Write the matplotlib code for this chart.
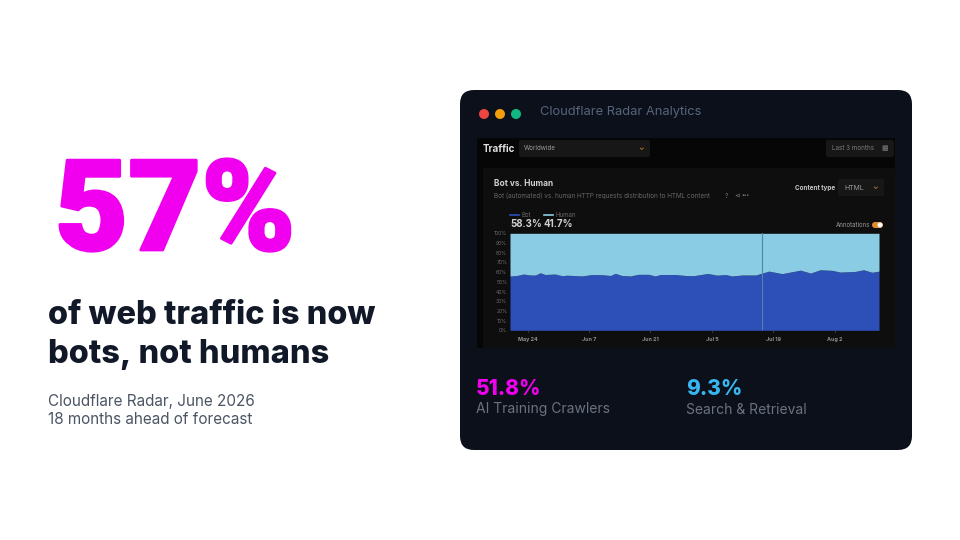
#! /usr/bin/python3

import matplotlib
matplotlib.use('Agg')
import matplotlib.pyplot as plt
import matplotlib.patheffects as pe
from matplotlib.patches import FancyBboxPatch, Circle, Rectangle

# bot share of requests
days = [0, 1.6, 3.1, 4.6, 5.8, 6.9, 8, 10.3, 11.9, 13, 16.4, 18.7, 21, 22.9, 24, 25.5, 27.4,
        29.3, 31.6, 33.1, 34.3, 37.7, 40, 41.9, 45.1, 47.2, 49.1, 50.6, 52.9, 56, 59, 62,
        66.2, 68.5, 70.7, 73.4, 75.3, 78.7, 80.6, 82.5, 84.1]
bot = [55.9, 56.5, 58, 57, 57, 59.3, 57.5, 58, 56.2, 56.8, 56, 57.5, 57.3, 56.5, 58.7, 56.5, 56,
       57.7, 57.7, 56, 57.5, 57.5, 56.5, 56.3, 58.6, 56.8, 57.5, 56, 57, 57, 61, 58.4,
       62, 59, 62.4, 61.8, 60, 60.7, 62.4, 59.8, 61]
yticks = [0, 10, 20, 30, 40, 50, 60, 70, 80, 90, 100]
xtick_days = [4, 18, 32, 46, 60, 74]
xtick_labels = ['May 24', 'Jun 7', 'Jun 21', 'Jul 5', 'Jul 19', 'Aug 2']
annotation_day = 57.5

MAGENTA = '#f000ee'
CARD = '#0b101a'
plt.rcParams['font.family'] = ['Inter', 'DejaVu Sans']

fig = plt.figure(figsize=(9.6, 5.4), dpi=100, facecolor='white')
bg = fig.add_axes([0, 0, 1, 1])
bg.set_xlim(0, 960)
bg.set_ylim(540, 0)
bg.axis('off')


def rbox(x, y, w, h, r, color, ec='none', z=1):
    bg.add_patch(FancyBboxPatch((x + r, y + r), w - 2 * r, h - 2 * r, boxstyle=f'round,pad={r}',
                                fc=color, ec=ec, lw=0.6, zorder=z))


def txt(x, y, s, size, color, weight='normal', ha='left', z=5, family=None):
    return bg.text(x, y, s, fontsize=size, color=color, fontweight=weight, ha=ha, va='center',
                   zorder=z, family=family)


# left column
big = txt(55, 216, '57%', 91, MAGENTA, 'black', family=['Roboto', 'DejaVu Sans'])
big.set_path_effects([pe.withStroke(linewidth=2, foreground=MAGENTA)])
txt(48, 316, 'of web traffic is now', 23.4, '#111827', 'heavy')
txt(48, 355, 'bots, not humans', 23.4, '#111827', 'heavy')
txt(48, 401.5, 'Cloudflare Radar, June 2026', 11, '#4b5563')
txt(48, 419.5, '18 months ahead of forecast', 11, '#4b5563')

# dark card and window dots
rbox(460, 90, 452, 360, 14, CARD)
for cx, col in zip([484, 500, 516], ['#ef4444', '#f59e0b', '#10b981']):
    bg.add_patch(Circle((cx, 114), 5, fc=col, ec='none', zorder=3))
txt(540, 112, 'Cloudflare Radar Analytics', 9.3, '#56647c')

# screenshot panel
bg.add_patch(Rectangle((477, 138), 418, 210, fc='#060607', ec='none', zorder=2))
txt(483, 149, 'Traffic', 7, '#e0e0e0', 'bold')
rbox(519, 140, 131, 17, 2, '#171718', z=3)
txt(524, 148.5, 'Worldwide', 4.5, '#9a9a9a')
txt(641, 148, '⌄', 5, '#c77a2a', 'bold', ha='center')
rbox(826, 140, 68, 17, 2, '#171718', z=3)
txt(832, 148.5, 'Last 3 months', 4.5, '#7c7c7c')
txt(885, 148.5, '▦', 5, '#7c7c7c', ha='center')

rbox(483, 168, 412, 180, 2, '#0e0e0f', z=3)
txt(494, 184, 'Bot vs. Human', 6, '#d0d0d0', 'bold')
txt(494, 196, 'Bot (automated) vs. human HTTP requests distribution to HTML content', 4.6, '#666666')
txt(726, 196, '?', 4.5, '#808080', ha='center')
txt(737, 196, '⋖', 5, '#808080', ha='center')
txt(746, 196, '•••', 3.5, '#808080', ha='center')
txt(795, 188, 'Content type', 4.6, '#c4c4c4', 'bold')
rbox(838, 179, 46, 17, 2, '#171718', z=4)
txt(844, 187.5, 'HTML', 5, '#9a9a9a')
txt(875, 187, '⌄', 5, '#c77a2a', 'bold', ha='center')
txt(836, 225, 'Annotations', 4.4, '#969696')
rbox(872, 222, 11, 6, 3, '#e08a2e', z=4)
bg.add_patch(Circle((880, 225), 2.5, fc='white', ec='none', zorder=5))

# chart legend
bg.plot([510, 519], [215, 215], color='#2c4fb8', lw=1.2, zorder=5)
txt(522, 215, 'Bot', 4.4, '#666666')
bg.plot([544, 553], [215, 215], color='#8accE4', lw=1.2, zorder=5)
txt(556, 215, 'Human', 4.4, '#666666')
txt(510, 224, '58.3%', 7, '#d0d0d0', 'bold')
txt(544, 224, '41.7%', 7, '#d0d0d0', 'bold')

# stats below the panel
txt(476, 389, '51.8%', 15, MAGENTA, 'heavy')
txt(476, 409.5, 'AI Training Crawlers', 10, '#6b7280')
txt(686, 389, '9.3%', 15, '#38b6f0', 'heavy')
txt(686, 409.5, 'Search & Retrieval', 10, '#6b7280')

# stacked area chart
ax = fig.add_axes([510 / 960, 1 - 330.3 / 540, 369 / 960, 97 / 540], zorder=6)
ax.patch.set_visible(False)
ax.fill_between(days, 0, bot, color='#2c4fb8', lw=0)
ax.fill_between(days, bot, 100, color='#8accE4', lw=0)
ax.axvline(annotation_day, color='#4f86a8', lw=0.8)
ax.set_xlim(days[0], days[-1])
ax.set_ylim(0, 100)
ax.set_yticks(yticks)
ax.set_yticklabels([f'{v}%' for v in yticks], fontsize=3.6, color='#6e6e6e')
ax.set_xticks(xtick_days)
ax.set_xticklabels(xtick_labels, fontsize=3.9, color='#909090', fontweight='bold')
ax.tick_params(axis='both', length=0, pad=2)
ax.tick_params(axis='x', length=1.5, color='#444444', pad=3.5)
for s in ax.spines.values():
    s.set_visible(False)

fig.savefig('out.png', dpi=100, facecolor='white')
